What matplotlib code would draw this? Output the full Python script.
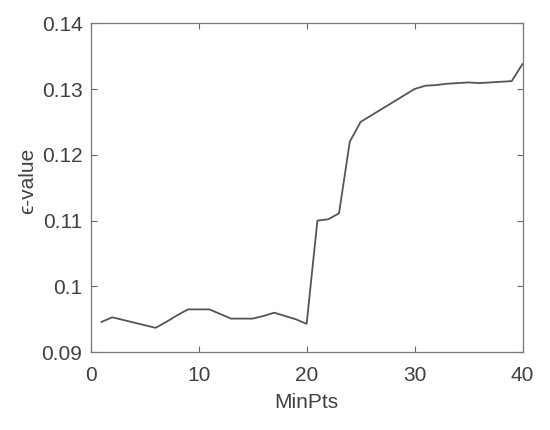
import matplotlib
matplotlib.use("Agg")
import matplotlib.pyplot as plt

minpts = list(range(1, 41))
eps_value = [0.0946, 0.0953, 0.0949, 0.0945, 0.0941, 0.0937, 0.0946, 0.0956,
             0.0965, 0.0965, 0.0965, 0.0958, 0.0951, 0.0951, 0.0951, 0.0955,
             0.0960, 0.0955, 0.0950, 0.0943, 0.1100, 0.1102, 0.1111, 0.1220,
             0.1250, 0.1260, 0.1270, 0.1280, 0.1290, 0.1300, 0.1305, 0.1306,
             0.1308, 0.1309, 0.1310, 0.1309, 0.1310, 0.1311, 0.1312, 0.1338]
xticks = [0, 10, 20, 30, 40]
yticks = [0.09, 0.10, 0.11, 0.12, 0.13, 0.14]
yticklabels = ["0.09", "0.1", "0.11", "0.12", "0.13", "0.14"]

plt.rcParams["font.family"] = ["Liberation Sans", "DejaVu Sans"]

fig = plt.figure(figsize=(5.5, 4.3), dpi=100)
ax = fig.add_axes([0.165, 0.181, 0.785, 0.765])

ax.plot(minpts, eps_value, color="#555555", linewidth=1.3)

ax.set_xlim(0, 40)
ax.set_ylim(0.09, 0.14)
ax.set_xticks(xticks)
ax.set_yticks(yticks)
ax.set_yticklabels(yticklabels)
ax.tick_params(direction="in", top=True, right=True, length=4, width=0.8,
               color="#666666", labelcolor="#404040", labelsize=15)
ax.tick_params(axis="x", pad=10)
ax.tick_params(axis="y", pad=6)
for s in ax.spines.values():
    s.set_color("#777777")
    s.set_linewidth(0.9)

ax.set_xlabel("MinPts", fontsize=15, color="#404040", labelpad=6)
ax.set_ylabel("\u03f5-value", fontsize=15, color="#404040")
ax.yaxis.set_label_coords(-0.125, 0.52)

fig.savefig("out.png", dpi=100)
